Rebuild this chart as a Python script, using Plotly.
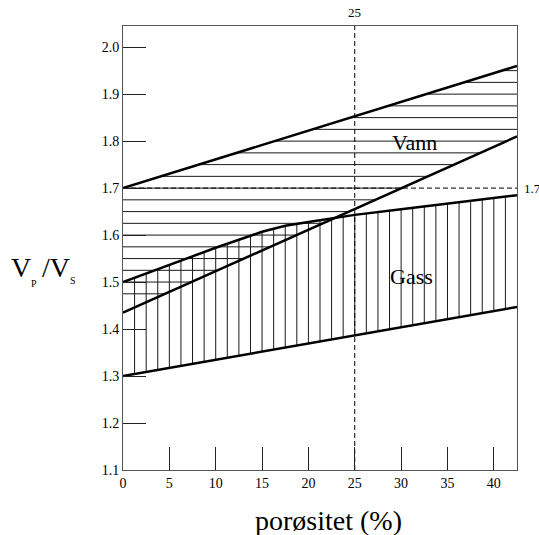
import numpy as np
import plotly.graph_objects as go

# Porosity (%) axis and Vp/Vs boundary curves
x_max = 42.5

vann_top_x = [0, 42.5]
vann_top_y = [1.70, 1.96]

vann_low_x = [0, 42.5]
vann_low_y = [1.435, 1.81]

gass_top_x = [0, 5, 10, 15, 17.5, 20, 25, 30, 35, 42.5]
gass_top_y = [1.50, 1.537, 1.573, 1.607, 1.620, 1.628, 1.643, 1.655, 1.667, 1.685]

gass_low_x = [0, 42.5]
gass_low_y = [1.30, 1.447]

ref_porosity = 25
ref_ratio = 1.7

x_ticks = [0, 5, 10, 15, 20, 25, 30, 35, 40]
y_ticks = [1.1, 1.2, 1.3, 1.4, 1.5, 1.6, 1.7, 1.8, 1.9, 2.0]

SERIF = "Liberation Serif, Times New Roman, serif"
W, H = 539, 535
ML, MR, MT, MB = 123, 22, 26, 65
PW, PH = W - ML - MR, H - MT - MB


def px_x(px):
    return (px - ML) / PW


def px_y(py):
    return (H - MB - py) / PH


fig = go.Figure()

# Horizontal hatching of the water (Vann) band
hx, hy = [], []
for lev in np.arange(1.475, 1.951, 0.025):
    xl = 0.0 if lev <= vann_top_y[0] else float(np.interp(lev, vann_top_y, vann_top_x))
    xr = min(x_max, float(np.interp(lev, vann_low_y, vann_low_x, right=x_max)))
    if xr > xl:
        hx += [xl, xr, None]
        hy += [lev, lev, None]
fig.add_trace(go.Scatter(x=hx, y=hy, mode="lines",
                         line=dict(color="#1a1a1a", width=1),
                         hoverinfo="skip", showlegend=False))

# Vertical hatching of the gas (Gass) band
vx, vy = [], []
for xv in np.arange(1.25, 41.3, 1.25):
    y0 = float(np.interp(xv, gass_low_x, gass_low_y))
    y1 = float(np.interp(xv, gass_top_x, gass_top_y))
    vx += [xv, xv, None]
    vy += [y0, y1, None]
fig.add_trace(go.Scatter(x=vx, y=vy, mode="lines",
                         line=dict(color="#1a1a1a", width=1),
                         hoverinfo="skip", showlegend=False))

# Reference dashed lines
fig.add_trace(go.Scatter(x=[0, x_max], y=[ref_ratio, ref_ratio], mode="lines",
                         line=dict(color="black", width=1, dash="5px,3px"),
                         hoverinfo="skip", showlegend=False))
fig.add_trace(go.Scatter(x=[ref_porosity, ref_porosity], y=[1.1, 2.045], mode="lines",
                         line=dict(color="black", width=1, dash="5px,3px"),
                         hoverinfo="skip", showlegend=False))

# Boundary curves
for bx, by in [(vann_top_x, vann_top_y), (vann_low_x, vann_low_y),
               (gass_top_x, gass_top_y), (gass_low_x, gass_low_y)]:
    fig.add_trace(go.Scatter(x=bx, y=by, mode="lines",
                             line=dict(color="black", width=2.5),
                             hoverinfo="skip", showlegend=False))

ann = []
ann.append(dict(x=31.4, y=1.798, xref="x", yref="y", text="Vann", showarrow=False,
                font=dict(family=SERIF, size=22, color="black")))
ann.append(dict(x=31.1, y=1.511, xref="x", yref="y", text="Gass", showarrow=False,
                font=dict(family=SERIF, size=22, color="black")))
ann.append(dict(x=ref_porosity, y=1, xref="x", yref="paper", yanchor="bottom", yshift=4,
                text=str(ref_porosity), showarrow=False,
                font=dict(family=SERIF, size=13, color="black")))
ann.append(dict(x=1, y=ref_ratio, xref="paper", yref="y", xanchor="left", xshift=5,
                text=str(ref_ratio), showarrow=False,
                font=dict(family=SERIF, size=13, color="black")))
# x-axis title
ann.append(dict(x=px_x(328), y=px_y(520), xref="paper", yref="paper",
                xanchor="center", yanchor="middle", text="porøsitet (%)", showarrow=False,
                font=dict(family=SERIF, size=28, color="black")))
# y-axis title: V_P / V_S built from pieces
ann.append(dict(x=px_x(9), y=px_y(267), xref="paper", yref="paper",
                xanchor="left", yanchor="middle", text="V", showarrow=False,
                font=dict(family=SERIF, size=28, color="black")))
ann.append(dict(x=px_x(29), y=px_y(283), xref="paper", yref="paper",
                xanchor="left", yanchor="middle", text="P", showarrow=False,
                font=dict(family=SERIF, size=10, color="black")))
ann.append(dict(x=px_x(40), y=px_y(267), xref="paper", yref="paper",
                xanchor="left", yanchor="middle", text="/V", showarrow=False,
                font=dict(family=SERIF, size=28, color="black")))
ann.append(dict(x=px_x(68), y=px_y(280), xref="paper", yref="paper",
                xanchor="left", yanchor="middle", text="S", showarrow=False,
                font=dict(family=SERIF, size=10, color="black")))

axis_common = dict(showgrid=False, zeroline=False, showline=True, mirror=True,
                   linecolor="#555", linewidth=1, ticks="inside", ticklen=23,
                   tickcolor="#222", tickwidth=1,
                   tickfont=dict(family=SERIF, size=14, color="black"))

fig.update_layout(
    width=W, height=H,
    margin=dict(l=ML, r=MR, t=MT, b=MB),
    paper_bgcolor="white", plot_bgcolor="white",
    font=dict(family=SERIF),
    xaxis=dict(range=[0, x_max], tickvals=x_ticks, ticktext=[str(v) for v in x_ticks],
               **axis_common),
    yaxis=dict(range=[1.1, 2.045], tickvals=y_ticks, ticktext=[f"{v:.1f}" for v in y_ticks],
               **axis_common),
    annotations=ann,
    showlegend=False,
)

fig.write_html("out.html")
